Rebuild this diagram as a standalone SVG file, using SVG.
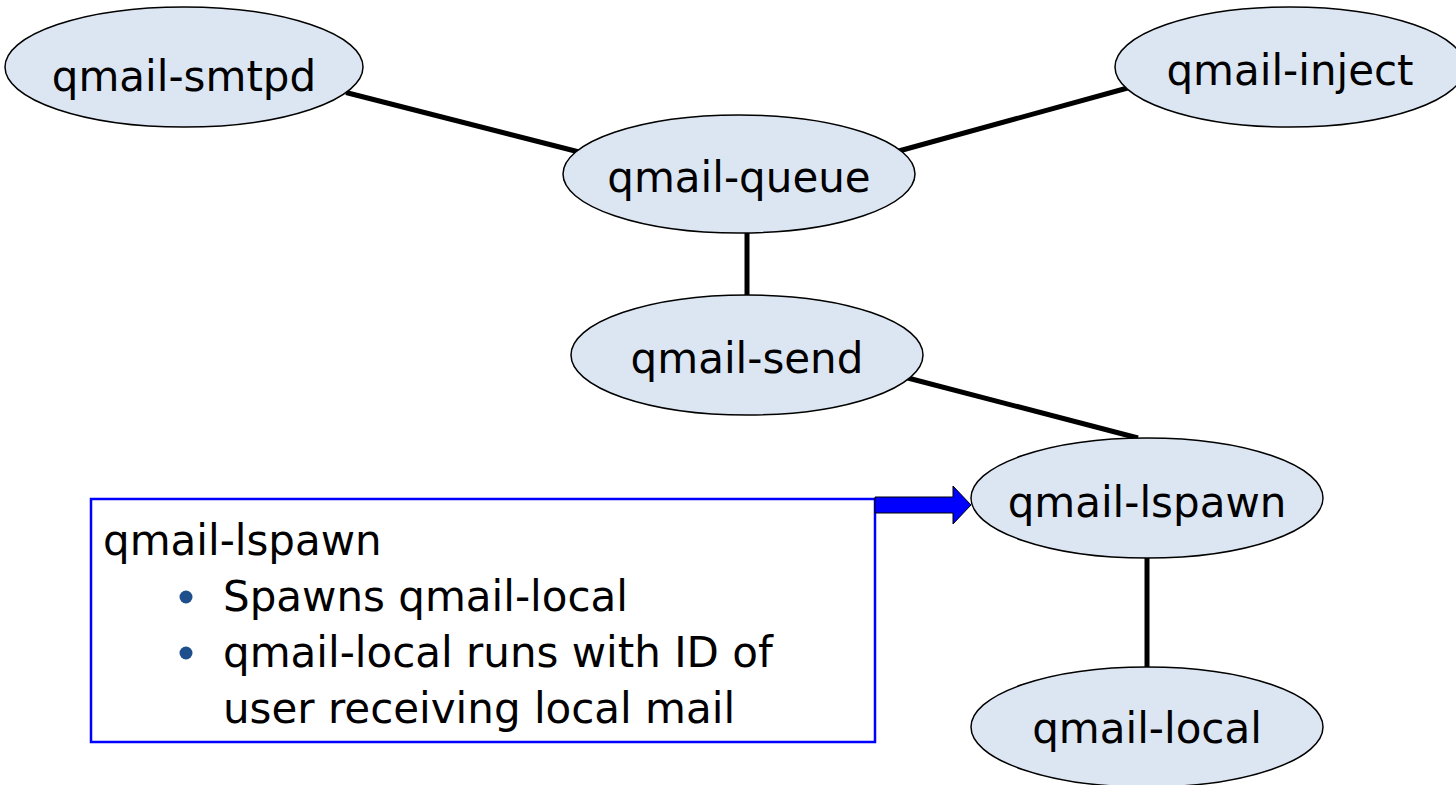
<svg xmlns="http://www.w3.org/2000/svg" width="1456" height="785" viewBox="0 0 1456 785">
  <style>
    .node ellipse { fill: #DCE6F2; stroke: #000000; stroke-width: 1.5; }
    .label { font-family: "DejaVu Sans", Verdana, sans-serif; font-size: 42px; fill: #000000; }
    .node text { text-anchor: middle; }
    .edge { stroke: #000000; stroke-width: 5; fill: none; }
  </style>
  <rect width="1456" height="785" fill="#FFFFFF"/>
  <g id="connectors">
    <line class="edge" x1="346" y1="92.5" x2="585" y2="153.5"/>
    <line class="edge" x1="897" y1="151.5" x2="1133" y2="86.5"/>
    <line class="edge" x1="747" y1="230" x2="747" y2="298"/>
    <line class="edge" x1="904" y1="377" x2="1138" y2="438"/>
    <line class="edge" x1="1147" y1="555" x2="1147" y2="670"/>
  </g>
  <g id="callout">
    <rect x="91" y="499" width="784" height="243" fill="#FFFFFF" stroke="#0000FF" stroke-width="2.5"/>
    <text class="label" x="103" y="555">qmail-lspawn</text>
    <circle cx="186" cy="597" r="6.5" fill="#1F4E8C"/>
    <text class="label" x="223" y="611">Spawns qmail-local</text>
    <circle cx="186" cy="653" r="6.5" fill="#1F4E8C"/>
    <text class="label" x="223" y="667">qmail-local runs with ID of</text>
    <text class="label" x="223" y="723">user receiving local mail</text>
    <polygon points="875,497 953,497 953,486 971,505 953,524 953,513 875,513" fill="#0000FF" stroke="#000000" stroke-width="1"/>
  </g>
  <g id="qmail-smtpd" class="node">
    <ellipse cx="184" cy="67" rx="179" ry="60"/>
    <text class="label" x="184" y="91">qmail-smtpd</text>
  </g>
  <g id="qmail-inject" class="node">
    <ellipse cx="1290" cy="67" rx="175" ry="60"/>
    <text class="label" x="1290" y="85">qmail-inject</text>
  </g>
  <g id="qmail-queue" class="node">
    <ellipse cx="739" cy="174" rx="176" ry="59"/>
    <text class="label" x="739" y="192">qmail-queue</text>
  </g>
  <g id="qmail-send" class="node">
    <ellipse cx="747" cy="355" rx="176" ry="60"/>
    <text class="label" x="747" y="373">qmail-send</text>
  </g>
  <g id="qmail-lspawn" class="node">
    <ellipse cx="1147" cy="498" rx="176" ry="60"/>
    <text class="label" x="1147" y="517">qmail-lspawn</text>
  </g>
  <g id="qmail-local" class="node">
    <ellipse cx="1147" cy="727" rx="176" ry="60"/>
    <text class="label" x="1147" y="743">qmail-local</text>
  </g>
</svg>
